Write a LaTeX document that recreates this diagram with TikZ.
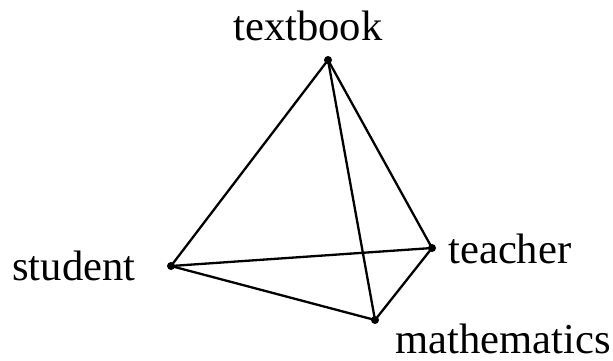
\documentclass[tikz,border=0pt]{standalone}
\usepackage{fontspec}
\setmainfont{Liberation Serif}
\begin{document}
\begin{tikzpicture}[x=0.5pt,y=-0.5pt,
  vertex/.style={circle,fill=black,inner sep=0pt,minimum size=4pt},
  lbl/.style={inner sep=0pt,anchor=base west,font=\fontsize{21.3pt}{24pt}\selectfont},
  edge/.style={line width=1.15pt,black}]
\useasboundingbox (0,0) rectangle (613,360);
\node[vertex] (tb) at (328,60) {};
\node[vertex] (st) at (171,266) {};
\node[vertex] (te) at (432,248) {};
\node[vertex] (ma) at (375,320) {};
\node[lbl] (ltb) at (233,40) {textbook};
\node[lbl] (lst) at (12,280) {student};
\node[lbl] (lte) at (448,263) {teacher};
\node[lbl] (lma) at (395,353) {mathematics};
\draw[edge] (tb.center) -- (st.center);
\draw[edge] (tb.center) -- (te.center);
\draw[edge] (tb.center) -- (ma.center);
\draw[edge] (st.center) -- (te.center);
\draw[edge] (st.center) -- (ma.center);
\draw[edge] (te.center) -- (ma.center);
\end{tikzpicture}
\end{document}
